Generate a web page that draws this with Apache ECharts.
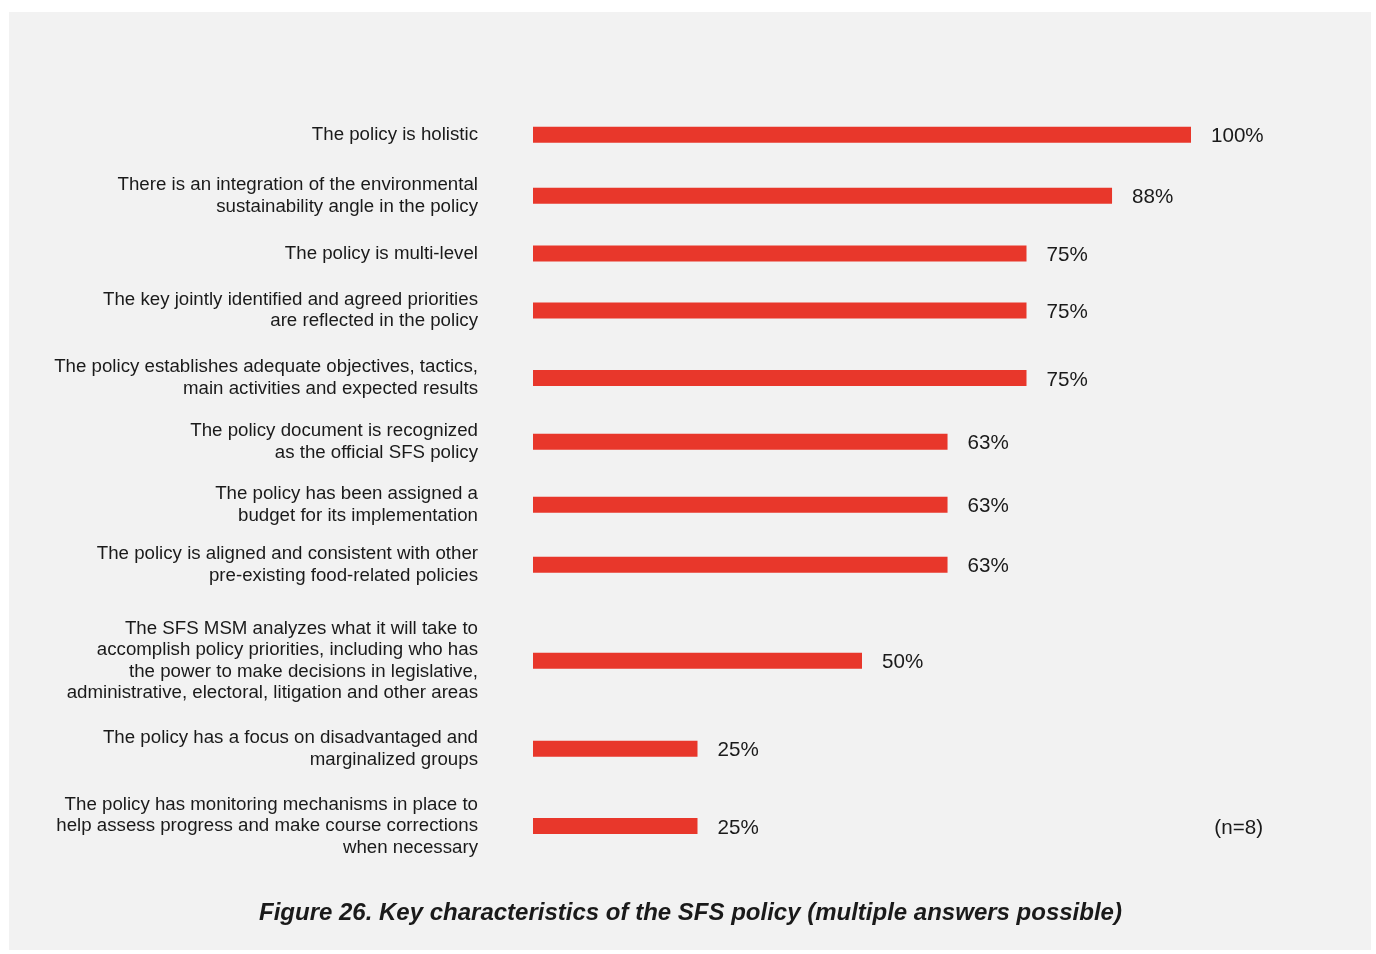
<!DOCTYPE html>
<html>
<head>
<meta charset="utf-8">
<script src="https://cdn.jsdelivr.net/npm/echarts@6/dist/echarts.min.js"></script>
<style>
html,body{margin:0;padding:0;background:#ffffff;}
#chart{width:1376px;height:954px;}
</style>
</head>
<body>
<div id="chart"></div>
<script>
// ---- data ----
const categories = [
  "The policy is holistic",
  "There is an integration of the environmental\nsustainability angle in the policy",
  "The policy is multi-level",
  "The key jointly identified and agreed priorities\nare reflected in the policy",
  "The policy establishes adequate objectives, tactics,\nmain activities and expected results",
  "The policy document is recognized\nas the official SFS policy",
  "The policy has been assigned a\nbudget for its implementation",
  "The policy is aligned and consistent with other\npre-existing food-related policies",
  "The SFS MSM analyzes what it will take to\naccomplish policy priorities, including who has\nthe power to make decisions in legislative,\nadministrative, electoral, litigation and other areas",
  "The policy has a focus on disadvantaged and\nmarginalized groups",
  "The policy has monitoring mechanisms in place to\nhelp assess progress and make course corrections\nwhen necessary"
];
const values = [100, 88, 75, 75, 75, 63, 63, 63, 50, 25, 25];
const valueLabels = ["100%", "88%", "75%", "75%", "75%", "63%", "63%", "63%", "50%", "25%", "25%"];
const sampleNote = "(n=8)";
const titleText = "Figure 26. Key characteristics of the SFS policy (multiple answers possible)";

// ---- layout (row centres in px) ----
const rowCenters = [134.7, 195.8, 253.5, 310.5, 378, 441.8, 504.8, 564.8, 660.8, 748.8, 826];
const FONT = "'Liberation Sans', Arial, sans-serif";
const TEXT = "#1a1a1a";
const BAR = "#e8372b";
const rowH = 40;

const grids = [], xAxes = [], yAxes = [], series = [];
categories.forEach((cat, i) => {
  grids.push({left: 533, width: 658, top: rowCenters[i] - rowH / 2, height: rowH, containLabel: false});
  xAxes.push({type: 'value', gridIndex: i, min: 0, max: 100, show: false});
  yAxes.push({
    type: 'category', gridIndex: i, data: [cat],
    axisLine: {show: false}, axisTick: {show: false}, splitLine: {show: false},
    axisLabel: {margin: 55, fontSize: 18.7, lineHeight: 21.5, color: TEXT, fontFamily: FONT, align: 'right'}
  });
  series.push({
    type: 'bar', xAxisIndex: i, yAxisIndex: i,
    data: [values[i]], barWidth: 16, silent: true,
    itemStyle: {color: BAR},
    label: {show: true, position: 'right', distance: 20, offset: [0, 2], fontSize: 20.6, color: TEXT, fontFamily: FONT,
      formatter: () => valueLabels[i]}
  });
});

const chart = echarts.init(document.getElementById('chart'), null, {renderer: 'canvas'});
chart.setOption({
  animation: false,
  backgroundColor: '#ffffff',
  grid: grids, xAxis: xAxes, yAxis: yAxes, series: series,
  graphic: [
    {type: 'rect', z: -10, silent: true, shape: {x: 9, y: 12, width: 1362, height: 938}, style: {fill: '#f2f2f2'}},
    {type: 'text', right: 113, top: 818, silent: true,
      style: {text: sampleNote, font: '20.6px ' + FONT, fill: TEXT, textAlign: 'right'}},
    {type: 'text', left: 259, top: 901, silent: true,
      style: {text: titleText, font: 'italic bold 24px ' + FONT, fill: TEXT}}
  ]
});
</script>
</body>
</html>
